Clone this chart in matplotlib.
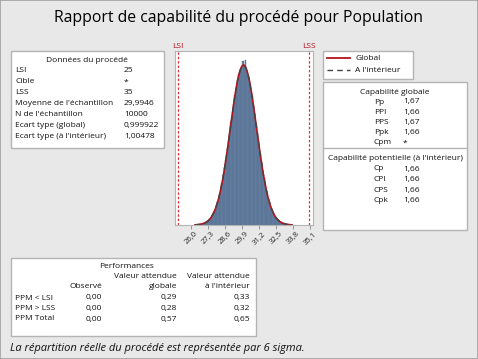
import numpy as np
import matplotlib.pyplot as plt
from matplotlib.patches import Rectangle
from matplotlib.lines import Line2D

plt.rcParams['font.family'] = ['Open Sans', 'DejaVu Sans']

# Process data
lsi, lss = 25, 35
mean = 29.9946
n_obs = 10000
sd_global = 0.999922
sd_within = 1.00478

# histogram (bin width 0.1, left edge 26.5), counts
bin_start = 26.5
bin_width = 0.1
counts = [1, 1, 2, 3, 4, 5, 7, 9, 12, 16,
          20, 26, 33, 40, 50, 61, 73, 88, 104, 124,
          145, 163, 186, 210, 232, 258, 282, 303, 325, 343,
          362, 377, 386, 392, 410, 400, 412, 386, 372, 359,
          340, 322, 300, 277, 252, 229, 204, 180, 158, 137,
          118, 101, 85, 71, 58, 48, 39, 31, 25, 19,
          15, 12, 9, 7, 5, 4, 3, 2, 1, 1]
xticks = [26.0, 27.3, 28.6, 29.9, 31.2, 32.5, 33.8, 35.1]

process_rows = [("LSI", "25"), ("Cible", "*"), ("LSS", "35"),
                ("Moyenne de l'échantillon", "29,9946"),
                ("N de l'échantillon", "10000"),
                ("Ecart type (global)", "0,999922"),
                ("Ecart type (à l'intérieur)", "1,00478")]
overall_rows = [("Pp", "1,67"), ("PPI", "1,66"), ("PPS", "1,67"),
                ("Ppk", "1,66"), ("Cpm", "*")]
within_rows = [("Cp", "1,66"), ("CPI", "1,66"), ("CPS", "1,66"), ("Cpk", "1,66")]
perf_labels = ["PPM < LSI", "PPM > LSS", "PPM Total"]
perf_observed = ["0,00", "0,00", "0,00"]
perf_global = ["0,29", "0,28", "0,57"]
perf_within = ["0,33", "0,32", "0,65"]

W, H = 478, 359
fig = plt.figure(figsize=(W / 100, H / 100), dpi=100, facecolor='#e8e8e8')


def fx(x):
    return x / W


def fy(y):
    return 1 - y / H


def box(x0, y0, x1, y1):
    fig.patches.append(Rectangle((fx(x0), fy(y1)), (x1 - x0) / W, (y1 - y0) / H,
                                 transform=fig.transFigure, facecolor='white',
                                 edgecolor='#b4b4b4', lw=1.0))


def txt(x, y, s, ha='left', **kw):
    kw.setdefault('fontsize', 6)
    kw.setdefault('color', '#111111')
    fig.text(fx(x), fy(y), s, ha=ha, va='center', **kw)


fig.patches.append(Rectangle((0, 0), 1, 1, transform=fig.transFigure, fill=False,
                             edgecolor='#a0a0a0', lw=1.2))
txt(238, 18, "Rapport de capabilité du procédé pour Population", ha='center',
    fontsize=11.3, color='black')

# left box: process data
box(11, 51, 164, 148)
txt(87, 61, "Données du procédé", ha='center')
for i, (lab, val) in enumerate(process_rows):
    y = 71 + i * 10.9
    txt(15, y, lab)
    txt(124, y, val)

# histogram
ax = fig.add_axes([fx(175), fy(225), 138 / W, 174 / H])
edges = bin_start + bin_width * np.arange(len(counts) + 1)
ax.bar(edges[:-1], counts, width=bin_width, align='edge', color='#6580a3',
       edgecolor='#56708f', linewidth=0.3)
xs = np.linspace(26.3, 33.7, 300)
scale = n_obs * bin_width
pdf_g = scale * np.exp(-0.5 * ((xs - mean) / sd_global) ** 2) / (sd_global * np.sqrt(2 * np.pi))
pdf_w = scale * np.exp(-0.5 * ((xs - mean) / sd_within) ** 2) / (sd_within * np.sqrt(2 * np.pi))
ax.plot(xs, pdf_g, color='#b5121b', lw=1.2)
ax.plot(xs, pdf_w, color='#444444', lw=1.0, ls=(0, (4, 3)))
for v in (lsi, lss):
    ax.axvline(v, color='#e0303a', lw=0.9, ls=(0, (2, 1.5)))
ax.text(lsi, 1.005, "LSI", transform=ax.get_xaxis_transform(), ha='center', va='bottom',
        fontsize=6, color='#b5121b')
ax.text(lss, 1.005, "LSS", transform=ax.get_xaxis_transform(), ha='center', va='bottom',
        fontsize=6, color='#b5121b')
ax.set_xlim(24.77, 35.3)
ax.set_ylim(0, 434)
ax.set_yticks([])
ax.set_xticks(xticks)
ax.set_xticklabels([f"{t:.1f}".replace('.', ',') for t in xticks], rotation=45,
                   fontsize=5.5, color='#222222')
ax.tick_params(axis='x', length=3, width=0.6, color='#888888', pad=1)
for sp in ax.spines.values():
    sp.set_color('#b4b4b4')
    sp.set_linewidth(0.8)

# legend box
box(323, 51, 413, 79)
fig.lines.append(Line2D([fx(327), fx(350)], [fy(58), fy(58)], transform=fig.transFigure,
                        color='#b5121b', lw=1.3))
fig.lines.append(Line2D([fx(327), fx(350)], [fy(70), fy(70)], transform=fig.transFigure,
                        color='#444444', lw=1.0, ls=(0, (4, 3))))
txt(355, 59, "Global")
txt(355, 71, "A l'intérieur")

# capability box
box(323, 82, 467, 230)
fig.lines.append(Line2D([fx(323), fx(467)], [fy(148), fy(148)], transform=fig.transFigure,
                        color='#b4b4b4', lw=1.0))
txt(395, 92, "Capabilité globale", ha='center')
for i, (lab, val) in enumerate(overall_rows):
    y = 102 + i * 10.2
    txt(374, y, lab)
    txt(403, y, val)
txt(395, 158, "Capabilité potentielle (à l'intérieur)", ha='center')
for i, (lab, val) in enumerate(within_rows):
    y = 169 + i * 10.6
    txt(374, y, lab)
    txt(403, y, val)

# performance box
box(11, 258, 256, 336)
txt(127, 266, "Performances", ha='center')
txt(177, 276, "Valeur attendue", ha='right')
txt(250, 276, "Valeur attendue", ha='right')
txt(102, 287, "Observé", ha='right')
txt(177, 287, "globale", ha='right')
txt(250, 287, "à l'intérieur", ha='right')
for i, lab in enumerate(perf_labels):
    y = 298 + i * 10.5
    txt(15, y, lab)
    txt(102, y, perf_observed[i], ha='right')
    txt(177, y, perf_global[i], ha='right')
    txt(250, y, perf_within[i], ha='right')

txt(10, 349, "La répartition réelle du procédé est représentée par 6 sigma.",
    fontsize=8, style='italic')

fig.savefig('out.png', dpi=100, facecolor=fig.get_facecolor())
